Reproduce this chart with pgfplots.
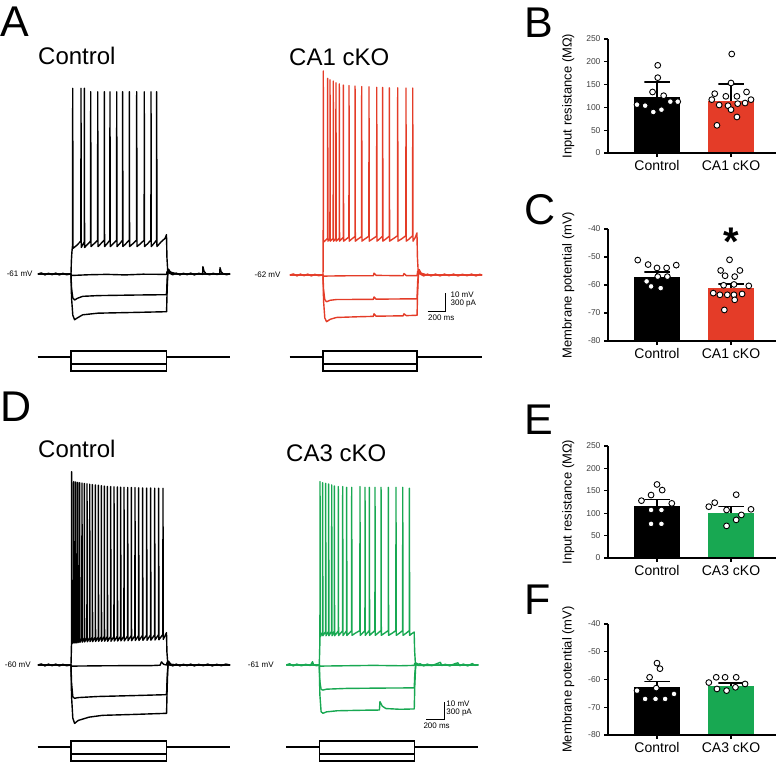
\documentclass[border=0pt]{standalone}
\usepackage{pgfplots}
\pgfplotsset{compat=1.18}
\usepackage{fontspec}
\setmainfont{Liberation Sans}

\definecolor{kored}{RGB}{228,60,40}
\definecolor{kogreen}{RGB}{24,168,82}

\pgfplotsset{
  trace/.style={hide axis, anchor=south west, x=0.09pt, y=1.83pt,
    xmin=-370, xmax=1770, ymin=-100, ymax=60, clip=false},
  stim/.style={hide axis, anchor=south west, x=0.09pt, y=0.061pt,
    xmin=-370, xmax=1770, ymin=-300, ymax=150, clip=false},
  vtrace/.style={line width=1.4pt, line join=round, mark=none},
  stimline/.style={black, line width=1.3pt, mark=none},
  barchart/.style={scale only axis, width=168pt, anchor=south west,
    xmin=-0.662, xmax=1.608, axis on top, clip=false,
    axis x line*=bottom, axis y line*=left,
    axis line style={line width=1.8pt, black},
    xtick={0,1}, tick align=outside, major tick length=4pt,
    tick style={line width=1.3pt, black},
    xticklabel style={font=\fontsize{14}{14}\selectfont},
    yticklabel style={font=\fontsize{8.5}{8.5}\selectfont, text=black!75},
    every axis y label/.style={at={(axis description cs:-0.179,0.5)},
      rotate=90, anchor=south, font=\fontsize{13}{13}\selectfont},
    /pgf/number format/assume math mode=true},
  dots/.style={only marks, mark=*, mark size=2.9pt,
    mark options={fill=white, draw=black, line width=0.9pt}},
  errbar/.style={black, line width=1.6pt, mark=none},
}
\tikzset{
  mvlabel/.style={anchor=east, inner sep=0pt, font=\fontsize{8}{8}\selectfont},
  scaletext/.style={inner sep=0.5pt, font=\fontsize{8}{8}\selectfont},
  letter/.style={anchor=base west, inner sep=0pt, font=\fontsize{43}{43}\selectfont},
  title/.style={anchor=base west, inner sep=0pt, font=\fontsize{24}{24}\selectfont},
}

\begin{document}
\begin{tikzpicture}
\useasboundingbox (0,0) rectangle (778pt,-763pt);

% panel letters and titles
\node[letter] at (0pt,-36pt) {A};
\node[letter] at (524pt,-37pt) {B};
\node[letter] at (524pt,-224pt) {C};
\node[letter] at (0pt,-421pt) {D};
\node[letter] at (524pt,-434pt) {E};
\node[letter] at (524pt,-614pt) {F};
\node[title] at (38pt,-64pt) {Control};
\node[title] at (289pt,-65pt) {CA1 cKO};
\node[title] at (38pt,-457pt) {Control};
\node[title] at (286pt,-461pt) {CA3 cKO};

% ---------- A, control ----------
\begin{axis}[trace, at={(37.7pt,-345.37pt)}]
\addplot[vtrace, black] coordinates {
 (-367,-61) (0,-61) (4,-54) (10,-49) (18,-45)
 (19,40.5) (22,-47) (60,-45.5) (110,-43)
 (111,40.5) (114,-46.5) (128,-45.2) (147,-43.5)
 (148,40.5) (151,-46.5) (180,-45) (218,-43)
 (219,38.6) (222,-46) (255,-44.5) (296,-42.5)
 (297,38.6) (300,-46) (330,-44.5) (369,-42.5)
 (370,38.6) (373,-46) (400,-44.5) (432,-42.5)
 (433,38.6) (436,-46) (468,-44.5) (507,-42.5)
 (508,38.6) (511,-46) (540,-44.5) (573,-42.5)
 (574,38.6) (577,-46) (608,-44.5) (647,-42.5)
 (648,38.6) (651,-46) (686,-44.5) (729,-42.5)
 (730,38.6) (733,-46) (770,-44.5) (813,-42.5)
 (814,38.6) (817,-46) (850,-44.5) (888,-42.5)
 (889,38.6) (892,-46) (918,-44.5) (951,-42.5)
 (952,38.6) (955,-46) (1000,-43.5) (1045,-41.5) (1061,-39.5)
 (1066,-52) (1075,-59.5) (1085,-58.5) (1110,-60.5) (1200,-61) (1767,-61)};
\addplot[vtrace, black] coordinates {
 (-367,-61) (-330,-60.4) (-290,-61.5) (-250,-60.6) (-210,-61.4) (-170,-60.5)
 (-130,-61.5) (-90,-60.6) (-50,-61.4) (0,-61)
 (6,-61.8) (200,-61.4) (400,-61.2) (600,-61.5) (800,-61.1) (1062,-61.2)
 (1068,-59.5) (1090,-60.5) (1130,-61.4) (1170,-60.5) (1210,-61.5) (1250,-60.6)
 (1290,-61.4) (1330,-60.5) (1370,-61.5) (1420,-60.6) (1462,-61.2) (1466,-57)
 (1478,-59.5) (1500,-60.8) (1540,-61.4) (1580,-60.6) (1620,-61.3) (1652,-61)
 (1656,-57.5) (1668,-59.8) (1690,-60.8) (1730,-61.4) (1767,-60.8)};
\addplot[vtrace, black] coordinates {
 (-367,-61) (0,-61) (6,-69) (20,-74) (40,-75.2) (70,-74.3) (130,-73.2)
 (300,-72.8) (700,-72.5) (1062,-72.3) (1068,-64) (1078,-59.5) (1100,-60.2)
 (1160,-61) (1767,-61)};
\addplot[vtrace, black] coordinates {
 (-367,-61) (0,-61) (6,-74) (20,-83.5) (40,-86) (70,-85) (130,-83.3)
 (300,-82.4) (700,-82) (1062,-81.6) (1068,-70) (1078,-58.5) (1100,-59.8)
 (1170,-61) (1767,-61)};
\node[mvlabel] at (axis cs:-425,-61) {-61 mV};
\end{axis}
\begin{axis}[stim, at={(37.7pt,-375.3pt)}]
\addplot[stimline] coordinates {(-367,0) (0,0) (0,100) (1062,100) (1062,0) (1767,0)};
\addplot[stimline] coordinates {(-367,0) (0,0) (0,-115) (1062,-115) (1062,0) (1767,0)};
\addplot[stimline] coordinates {(-367,0) (0,0) (0,-230) (1062,-230) (1062,0) (1767,0)};
\end{axis}

% ---------- A, CA1 cKO ----------
\begin{axis}[trace, at={(289.7pt,-344.54pt)}]
\addplot[vtrace, kored] coordinates {
 (-367,-62) (0,-62) (2,-55)
 (3,49.5) (6,-44) (30,-43) (51,-42)
 (52,45.5) (55,-43.5) (77,-42)
 (78,44.6) (81,-43.5) (95,-42.8) (113,-42)
 (114,44) (117,-43.5) (130,-42.8) (143,-42)
 (144,43) (147,-43.5) (160,-42.8) (180,-41.8)
 (181,42.4) (184,-43.5) (200,-42.6) (225,-41.5)
 (226,41.8) (229,-43.5) (255,-42.5) (288,-41.2)
 (289,41.5) (292,-43.5) (320,-42.3) (355,-41)
 (356,41.2) (359,-43.5) (390,-42.3) (429,-41)
 (430,41) (433,-43.5) (465,-42.3) (510,-40.8)
 (511,40.8) (514,-43.5) (550,-42.3) (596,-40.8)
 (597,40.5) (600,-43.5) (628,-42.3) (662,-40.8)
 (663,40.5) (666,-43.5) (698,-42.3) (736,-40.8)
 (737,40.3) (740,-43.5) (780,-42.2) (829,-40.5)
 (830,40.3) (833,-43.5) (875,-42.2) (921,-40.5)
 (922,40.2) (925,-43.5) (960,-42.2) (996,-40.5)
 (997,40.2) (1000,-43.5) (1025,-41.5) (1044,-39)
 (1049,-52) (1058,-60.5) (1068,-59) (1090,-61) (1150,-62) (1767,-62)};
\addplot[vtrace, kored] coordinates {
 (-367,-62) (-330,-61.4) (-290,-62.5) (-250,-61.5) (-210,-62.4) (-170,-61.5)
 (-130,-62.5) (-90,-61.6) (-50,-62.4) (0,-62)
 (6,-62.6) (300,-62.4) (560,-62.4) (567,-61) (590,-62.2) (890,-62.4)
 (900,-61.2) (925,-62.3) (1045,-62.3) (1052,-60) (1080,-61.5) (1120,-62.5)
 (1160,-61.5) (1200,-62.5) (1250,-61.5) (1300,-62.5) (1350,-61.5) (1400,-62.4)
 (1450,-61.5) (1500,-62.5) (1550,-61.6) (1600,-62.4) (1650,-61.5) (1700,-62.5)
 (1740,-61.6) (1767,-62)};
\addplot[vtrace, kored] coordinates {
 (-367,-62) (0,-62) (6,-70) (20,-75.5) (40,-76.6) (80,-75.8) (150,-75.4)
 (560,-75.3) (567,-74) (590,-75.2) (1045,-75) (1051,-66) (1062,-60.5)
 (1085,-61.5) (1150,-62) (1767,-62)};
\addplot[vtrace, kored] coordinates {
 (-367,-62) (0,-62) (6,-76) (20,-85.5) (40,-87.5) (80,-86.2) (150,-85.2)
 (400,-84.8) (560,-84.6) (567,-83.2) (590,-84.5) (890,-84.3) (900,-83.2)
 (925,-84.2) (1045,-84) (1051,-72) (1062,-60) (1085,-61.3) (1160,-62) (1767,-62)};
\node[mvlabel] at (axis cs:-470,-62) {-62 mV};
\draw[black, line width=0.9pt] (axis cs:1163,-81.7) -- (axis cs:1363,-81.7) -- (axis cs:1363,-71.7);
\node[scaletext, anchor=west] at (axis cs:1410,-72.9) {10 mV};
\node[scaletext, anchor=west] at (axis cs:1410,-77.8) {300 pA};
\node[scaletext, anchor=north west] at (axis cs:1160,-83.2) {200 ms};
\end{axis}
\begin{axis}[stim, at={(289.7pt,-375.3pt)}]
\addplot[stimline] coordinates {(-367,0) (0,0) (0,100) (1045,100) (1045,0) (1767,0)};
\addplot[stimline] coordinates {(-367,0) (0,0) (0,-115) (1045,-115) (1045,0) (1767,0)};
\addplot[stimline] coordinates {(-367,0) (0,0) (0,-230) (1045,-230) (1045,0) (1767,0)};
\end{axis}

% ---------- D, control ----------
\begin{axis}[trace, at={(37.7pt,-738.2pt)}]
\addplot[vtrace, black] coordinates {
 (-367,-60) (0,-60) (4,-52) (6,-47)
 (7,45.6) (10,-48.5) (29,-46)
 (30,40.2) (33,-48) (51,-46)
 (52,40) (55,-48) (73,-45.8)
 (74,39.8) (77,-47.8) (95,-45.6)
 (96,39.6) (99,-47.6) (121,-45.4)
 (122,39.4) (125,-47.5) (147,-45.2)
 (148,39.2) (151,-47.4) (177,-45)
 (178,39) (181,-47.3) (207,-45)
 (208,38.8) (211,-47.2) (236,-44.8)
 (237,38.6) (240,-47.2) (269,-44.8)
 (270,38.4) (273,-47.1) (303,-44.7)
 (304,38.2) (307,-47) (336,-44.6)
 (337,38) (340,-47) (369,-44.5)
 (370,37.8) (373,-47) (403,-44.5)
 (404,37.6) (407,-47) (440,-44.4)
 (441,37.5) (444,-47) (477,-44.4)
 (478,37.4) (481,-46.9) (514,-44.3)
 (515,37.3) (518,-46.9) (551,-44.3)
 (552,37.2) (555,-46.8) (588,-44.2)
 (589,37.1) (592,-46.8) (629,-44.1)
 (630,37) (633,-46.7) (669,-44)
 (670,37) (673,-46.7) (710,-44)
 (711,36.9) (714,-46.6) (751,-43.9)
 (752,36.8) (755,-46.6) (795,-43.8)
 (796,36.8) (799,-46.5) (840,-43.7)
 (841,36.7) (844,-46.5) (884,-43.6)
 (885,36.7) (888,-46.4) (929,-43.5)
 (930,36.6) (933,-46.3) (973,-43.4)
 (974,36.6) (977,-46.2) (1021,-43.3)
 (1022,36.6) (1025,-46) (1045,-44) (1061,-42.3)
 (1066,-53) (1075,-59) (1085,-58) (1110,-59.7) (1180,-60) (1767,-60)};
\addplot[vtrace, black] coordinates {
 (-367,-60) (-330,-59.4) (-290,-60.5) (-250,-59.5) (-210,-60.4) (-170,-59.5)
 (-130,-60.5) (-90,-59.6) (-50,-60.4) (0,-60)
 (6,-60.6) (400,-60.4) (900,-60.3) (990,-60.1) (1005,-58.3) (1030,-59.6)
 (1062,-60) (1068,-58.5) (1090,-59.5) (1130,-60.5) (1170,-59.5) (1210,-60.5)
 (1250,-59.6) (1290,-60.4) (1330,-59.5) (1370,-60.5) (1420,-59.6) (1470,-60.4)
 (1520,-59.5) (1570,-60.5) (1620,-59.6) (1670,-60.4) (1720,-59.5) (1767,-60)};
\addplot[vtrace, black] coordinates {
 (-367,-60) (0,-60) (6,-70) (20,-77.3) (40,-78.2) (80,-77.8) (300,-77.2)
 (700,-76.7) (1062,-76.2) (1068,-67) (1078,-59.5) (1100,-60.1) (1767,-60)};
\addplot[vtrace, black] coordinates {
 (-367,-60) (0,-60) (6,-77) (20,-89) (40,-91.9) (80,-90.3) (200,-88.5)
 (350,-87.5) (700,-87) (1062,-86.4) (1068,-73) (1078,-58.5) (1100,-59.6)
 (1180,-60) (1767,-60)};
\node[mvlabel] at (axis cs:-445,-60) {-60 mV};
\end{axis}
\begin{axis}[stim, at={(37.7pt,-765.3pt)}]
\addplot[stimline] coordinates {(-367,0) (0,0) (0,100) (1062,100) (1062,0) (1767,0)};
\addplot[stimline] coordinates {(-367,0) (0,0) (0,-115) (1062,-115) (1062,0) (1767,0)};
\addplot[stimline] coordinates {(-367,0) (0,0) (0,-230) (1062,-230) (1062,0) (1767,0)};
\end{axis}

% ---------- D, CA3 cKO ----------
\begin{axis}[trace, at={(286pt,-736.37pt)}]
\addplot[vtrace, kogreen] coordinates {
 (-367,-61) (0,-61) (4,-53) (7,-48)
 (8,39.2) (11,-45.5) (36,-43)
 (37,38.6) (40,-45) (70,-42.8)
 (71,38.3) (74,-45) (103,-42.6)
 (104,37.9) (107,-45) (137,-42.5)
 (138,37.4) (141,-45) (166,-42.5)
 (167,36.8) (170,-45) (190,-43.8) (210,-42.4)
 (211,36.5) (214,-44.9) (235,-43.7) (259,-42.3)
 (260,36.5) (263,-44.9) (282,-43.7) (303,-42.3)
 (304,36.1) (307,-44.9) (330,-43.7) (359,-42.3)
 (360,36.1) (363,-44.8) (400,-43.6) (451,-42.2)
 (452,36.5) (455,-44.8) (480,-43.6) (507,-42.2)
 (508,36.1) (511,-44.8) (530,-43.6) (555,-42.2)
 (556,36.1) (559,-44.8) (585,-43.6) (618,-42.2)
 (619,36.1) (622,-44.8) (650,-43.6) (685,-42.2)
 (686,36.1) (689,-44.8) (725,-43.6) (766,-42.2)
 (767,36.1) (770,-44.8) (810,-43.6) (851,-42.2)
 (852,36.1) (855,-44.8) (890,-43.6) (926,-42.2)
 (927,36.1) (930,-44.8) (965,-43.6) (1000,-42.2)
 (1001,35.6) (1004,-44.8) (1030,-43.8) (1054,-43)
 (1059,-53) (1068,-60.5) (1080,-60) (1110,-61) (1767,-61)};
\addplot[vtrace, kogreen] coordinates {
 (-367,-61) (-330,-60.3) (-290,-61.5) (-250,-60.5) (-200,-61.4) (-150,-60.6)
 (-100,-61.3) (-75,-59.2) (-65,-60.8) (-30,-61.4) (0,-61)
 (6,-61.6) (300,-61.4) (600,-61.2) (900,-61.4) (1055,-61.2) (1060,-60.2)
 (1080,-61) (1120,-60.3) (1160,-61.5) (1200,-60.5) (1250,-61.4) (1300,-60.4)
 (1345,-59.5) (1360,-61.3) (1400,-60.6) (1450,-61.5) (1500,-60.4) (1540,-59.8)
 (1560,-61.4) (1600,-60.5) (1650,-61.5) (1700,-60.2) (1730,-61.2) (1767,-60.8)};
\addplot[vtrace, kogreen] coordinates {
 (-367,-61) (0,-61) (6,-70) (20,-74.3) (40,-74.7) (80,-74.2) (300,-73.8)
 (700,-73.6) (1055,-73.5) (1061,-66) (1072,-60.5) (1100,-61.2) (1767,-61)};
\addplot[vtrace, kogreen] coordinates {
 (-367,-61) (0,-61) (6,-77) (20,-86.5) (40,-87.4) (80,-86.6) (200,-86)
 (500,-85.7) (668,-85.6) (674,-81) (700,-83.5) (741,-84.8) (900,-85.2)
 (1055,-85) (1061,-72) (1072,-60) (1100,-61) (1767,-61)};
\node[mvlabel] at (axis cs:-505,-61) {-61 mV};
\draw[black, line width=0.9pt] (axis cs:1189,-91) -- (axis cs:1389,-91) -- (axis cs:1389,-81);
\node[scaletext, anchor=west] at (axis cs:1405,-82.3) {10 mV};
\node[scaletext, anchor=west] at (axis cs:1405,-87.1) {300 pA};
\node[scaletext, anchor=north west] at (axis cs:1150,-92) {200 ms};
\end{axis}
\begin{axis}[stim, at={(286pt,-765.3pt)}]
\addplot[stimline] coordinates {(-367,0) (0,0) (0,100) (1055,100) (1055,0) (1767,0)};
\addplot[stimline] coordinates {(-367,0) (0,0) (0,-115) (1055,-115) (1055,0) (1767,0)};
\addplot[stimline] coordinates {(-367,0) (0,0) (0,-230) (1055,-230) (1055,0) (1767,0)};
\end{axis}

% ---------- B ----------
\begin{axis}[barchart, at={(608pt,-153pt)}, height=114pt, ymin=0, ymax=250,
  ytick={0,50,100,150,200,250}, yticklabels={0,50,100,150,200,250},
  xticklabels={Control,CA1 cKO}, ylabel={Input resistance (MΩ)}]
\addplot[fill=black, draw=none] coordinates {(-0.315,0) (-0.315,123) (0.315,123) (0.315,0)} -- cycle;
\addplot[fill=kored, draw=none] coordinates {(0.685,0) (0.685,115) (1.315,115) (1.315,0)} -- cycle;
\addplot[errbar] coordinates {(0,123) (0,156) (-0.17,156) (0.17,156)};
\addplot[errbar] coordinates {(1,115) (1,151) (0.83,151) (1.17,151)};
\addplot[dots] coordinates {(0.01,192.3) (0.01,165.2) (-0.06,133.8) (0.09,125.7)
 (-0.27,106) (-0.16,103.8) (0.18,112.6) (0.28,112.6) (-0.05,89.9) (0.06,95)};
\addplot[dots] coordinates {(1.01,217.1) (1.0,153.5) (0.78,130.1) (0.93,124.3)
 (1.08,124.3) (1.21,133.8) (0.74,117) (1.27,117) (0.84,105.3) (0.96,103.8)
 (1.09,108.2) (1.19,109.6) (1.08,79) (0.81,60.7) (1.0,95)};
\end{axis}

% ---------- C ----------
\begin{axis}[barchart, at={(608pt,-341pt)}, height=112pt, ymin=-80, ymax=-40,
  ytick={-80,-70,-60,-50,-40}, yticklabels={-80,-70,-60,-50,-40},
  xticklabels={Control,CA1 cKO}, ylabel={Membrane potential (mV)}]
\addplot[fill=black, draw=none] coordinates {(-0.315,-80) (-0.315,-57.2) (0.315,-57.2) (0.315,-80)} -- cycle;
\addplot[fill=kored, draw=none] coordinates {(0.685,-80) (0.685,-61.0) (1.315,-61.0) (1.315,-80)} -- cycle;
\addplot[errbar] coordinates {(0,-57.2) (0,-55.4) (-0.17,-55.4) (0.17,-55.4)};
\addplot[errbar] coordinates {(1,-61.0) (1,-59.7) (0.83,-59.7) (1.17,-59.7)};
\addplot[dots] coordinates {(-0.26,-51.1) (-0.12,-52.7) (0.0,-53.9) (0.13,-53.9)
 (0.26,-52.9) (-0.14,-58.7) (0.01,-57.0) (0.14,-57.0) (-0.08,-60.5) (0.05,-61.1)};
\addplot[dots] coordinates {(0.98,-51.0) (0.86,-54.8) (1.12,-54.8) (0.92,-56.7)
 (1.05,-57.0) (0.90,-60.1) (1.04,-59.8) (1.24,-60.3) (0.76,-62.9) (0.85,-63.5)
 (0.95,-63.5) (1.04,-63.5) (1.15,-63.2) (1.05,-65.3) (0.91,-68.9)};
\node[anchor=base, inner sep=0pt, font=\fontsize{40}{40}\selectfont\bfseries] at (axis cs:1,-49.3) {*};
\end{axis}

% ---------- E ----------
\begin{axis}[barchart, at={(608pt,-558pt)}, height=112pt, ymin=0, ymax=250,
  ytick={0,50,100,150,200,250}, yticklabels={0,50,100,150,200,250},
  xticklabels={Control,CA3 cKO}, ylabel={Input resistance (MΩ)}]
\addplot[fill=black, draw=none] coordinates {(-0.315,0) (-0.315,116) (0.315,116) (0.315,0)} -- cycle;
\addplot[fill=kogreen, draw=none] coordinates {(0.685,0) (0.685,101.5) (1.315,101.5) (1.315,0)} -- cycle;
\addplot[errbar] coordinates {(0,116) (0,131) (-0.17,131) (0.17,131)};
\addplot[errbar] coordinates {(1,101.5) (1,114.6) (0.83,114.6) (1.17,114.6)};
\addplot[dots] coordinates {(0,164.2) (0.07,151.6) (-0.08,140.5) (-0.21,128)
 (0.20,122) (-0.08,107.2) (0.06,107.2) (-0.08,76.2) (0.06,76.2)};
\addplot[dots] coordinates {(1.07,141.3) (0.78,123.5) (0.70,114.6) (0.94,107.2)
 (1.27,108.7) (1.14,96.2) (1.07,85.1) (0.94,71.7)};
\end{axis}

% ---------- F ----------
\begin{axis}[barchart, at={(608pt,-735pt)}, height=111pt, ymin=-80, ymax=-40,
  ytick={-80,-70,-60,-50,-40}, yticklabels={-80,-70,-60,-50,-40},
  xticklabels={Control,CA3 cKO}, ylabel={Membrane potential (mV)}]
\addplot[fill=black, draw=none] coordinates {(-0.315,-80) (-0.315,-62.8) (0.315,-62.8) (0.315,-80)} -- cycle;
\addplot[fill=kogreen, draw=none] coordinates {(0.685,-80) (0.685,-62.2) (1.315,-62.2) (1.315,-80)} -- cycle;
\addplot[errbar] coordinates {(0,-62.8) (0,-60.7) (-0.17,-60.7) (0.17,-60.7)};
\addplot[errbar] coordinates {(1,-62.2) (1,-61.3) (0.83,-61.3) (1.17,-61.3)};
\addplot[dots] coordinates {(0,-54.1) (0.04,-56.1) (-0.10,-59.2) (-0.01,-63.1)
 (-0.27,-64.0) (0.23,-65.2) (-0.16,-67.0) (-0.02,-67.0) (0.11,-67.0)};
\addplot[dots] coordinates {(0.80,-59.2) (0.92,-59.2) (1.07,-59.2) (0.70,-61.1)
 (1.19,-61.6) (0.81,-63.4) (0.94,-64.0) (1.06,-62.8)};
\end{axis}
\end{tikzpicture}
\end{document}
